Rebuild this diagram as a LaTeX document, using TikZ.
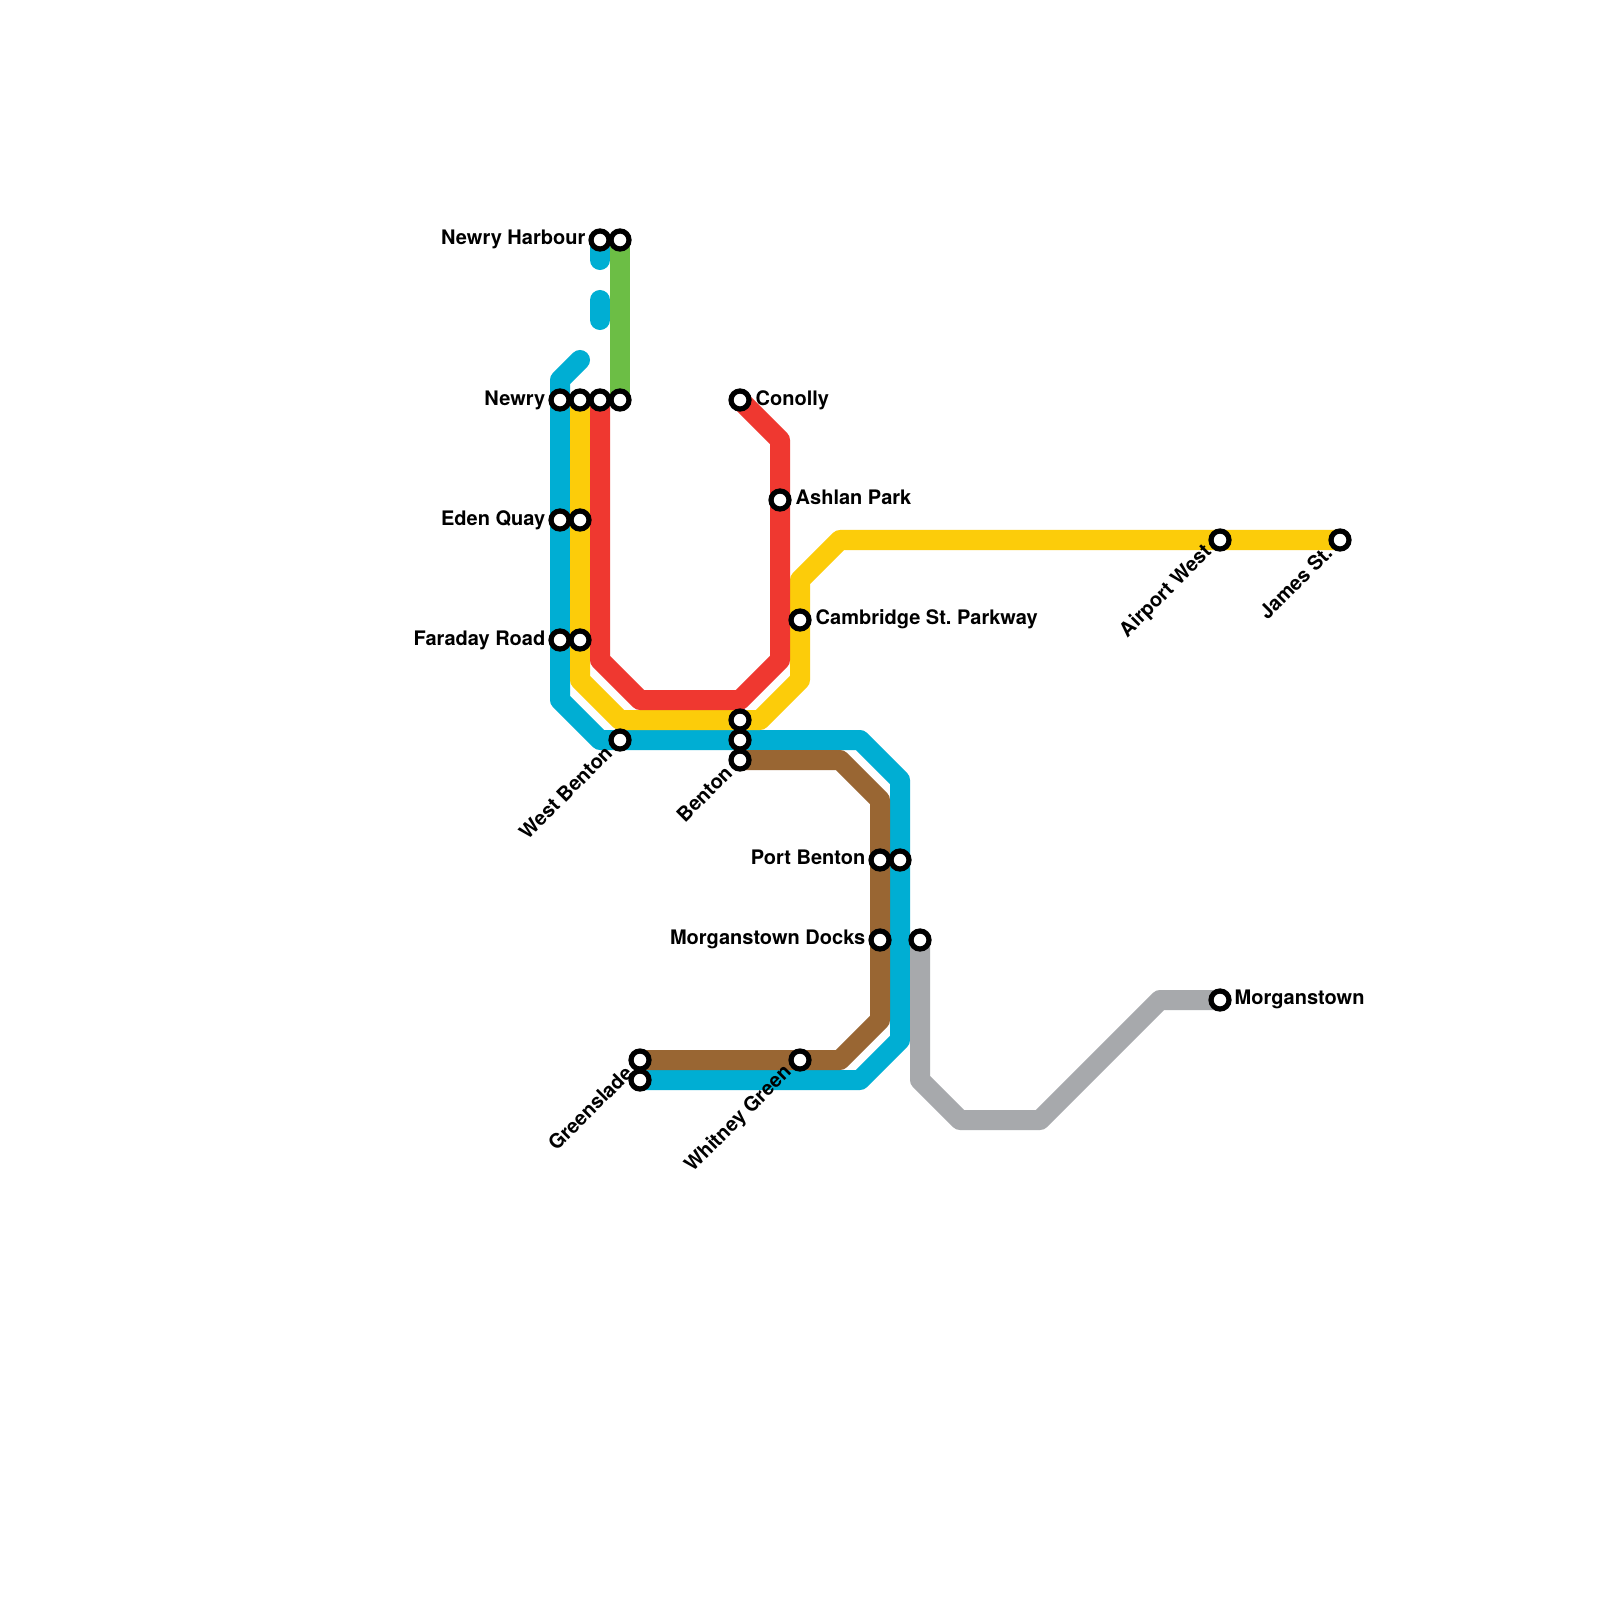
\documentclass[tikz,border=0pt]{standalone}
\usepackage{fontspec}
\setmainfont{TeX Gyre Heros}
\usepackage{tikz}
\usetikzlibrary{backgrounds}
\definecolor{mapblue}{HTML}{00AED3}
\definecolor{mapyellow}{HTML}{FCCC0A}
\definecolor{mapred}{HTML}{EF3830}
\definecolor{mapgreen}{HTML}{6CBE45}
\definecolor{mapbrown}{HTML}{996633}
\definecolor{mapgrey}{HTML}{A7A9AC}

\begin{document}
\frenchspacing
\begin{tikzpicture}[
  font=\bfseries\fontsize{5.69}{7}\selectfont,text=black,
  stn/.style={circle,draw=black,fill=white,line width=.052cm,minimum size=.18cm,inner sep=0pt},
  route/.style={line width=.2cm,line cap=round,line join=round},
  lbl/.style={inner sep=0pt}]
\begin{scope}[x=.01cm,y=-.01cm]
  \path[use as bounding box] (0,0) rectangle (1600,1600);
  % stations first, the routes go behind them
  \node[stn] (harbourblue) at (600,240) {};
  \node[stn] (harbourgreen) at (620,240) {};
  \node[stn] (newryblue) at (560,400) {};
  \node[stn] (newryyellow) at (580,400) {};
  \node[stn] (newryred) at (600,400) {};
  \node[stn] (newrygreen) at (620,400) {};
  \node[stn] (edenblue) at (560,520) {};
  \node[stn] (edenyellow) at (580,520) {};
  \node[stn] (faradayblue) at (560,640) {};
  \node[stn] (faradayyellow) at (580,640) {};
  \node[stn] (westbenton) at (620,740) {};
  \node[stn] (bentonyellow) at (740,720) {};
  \node[stn] (bentonblue) at (740,740) {};
  \node[stn] (bentonbrown) at (740,760) {};
  \node[stn] (conolly) at (740,400) {};
  \node[stn] (ashlan) at (780,500) {};
  \node[stn] (cambridge) at (800,620) {};
  \node[stn] (portbrown) at (880,860) {};
  \node[stn] (portblue) at (900,860) {};
  \node[stn] (docksbrown) at (880,940) {};
  \node[stn] (docksgrey) at (920,940) {};
  \node[stn] (morganstown) at (1220,1000) {};
  \node[stn] (airport) at (1220,540) {};
  \node[stn] (james) at (1340,540) {};
  \node[stn] (gladebrown) at (640,1060) {};
  \node[stn] (gladeblue) at (640,1080) {};
  \node[stn] (whitney) at (800,1060) {};
  % free ends of the unfinished blue pieces
  \coordinate (stubtop) at (600,260);
  \coordinate (stubmidA) at (600,300);
  \coordinate (stubmidB) at (600,320);
  \coordinate (stubend) at (580,360);
  \begin{scope}[on background layer]
    \fill[white] (0,0) rectangle (1600,1600);
    % routes
    \draw[route,mapblue] (stubend)--(560,380)--(newryblue.center)--(edenblue.center)--(faradayblue.center)--(560,700)--(600,740)--(westbenton.center)--(bentonblue.center)--(860,740)--(900,780)--(portblue.center)--(900,1040)--(860,1080)--(gladeblue.center);
    \draw[route,mapblue] (harbourblue.center)--(stubtop);
    \draw[route,mapblue] (stubmidA)--(stubmidB);
    \draw[route,mapyellow] (newryyellow.center)--(edenyellow.center)--(faradayyellow.center)--(580,680)--(620,720)--(bentonyellow.center)--(760,720)--(800,680)--(cambridge.center)--(800,580)--(840,540)--(airport.center)--(james.center);
    \draw[route,mapred] (newryred.center)--(600,660)--(640,700)--(740,700)--(780,660)--(ashlan.center)--(780,440)--(conolly.center);
    \draw[route,mapgreen] (harbourgreen.center)--(newrygreen.center);
    \draw[route,mapbrown] (bentonbrown.center)--(840,760)--(880,800)--(portbrown.center)--(docksbrown.center)--(880,1020)--(840,1060)--(whitney.center)--(gladebrown.center);
    \draw[route,mapgrey] (docksgrey.center)--(920,1080)--(960,1120)--(1040,1120)--(1160,1000)--(morganstown.center);
  \end{scope}
  % labels
  \node[lbl,anchor=base east] (lharbour) at (586,245) {Newry Harbour};
  \node[lbl,anchor=base east] (lnewry) at (546,405) {Newry};
  \node[lbl,anchor=base east] (leden) at (546,525) {Eden Quay};
  \node[lbl,anchor=base east] (lfaraday) at (546,645) {Faraday Road};
  \node[lbl,anchor=base west] (lconolly) at (755,405) {Conolly};
  \node[lbl,anchor=base west] (lashlan) at (795,504) {Ashlan Park};
  \node[lbl,anchor=base west] (lcambridge) at (815,624) {Cambridge St. Parkway};
  \node[lbl,anchor=base east] (lport) at (866,864) {Port Benton};
  \node[lbl,anchor=base east] (ldocks) at (866,944) {Morganstown Docks};
  \node[lbl,anchor=base west] (lmorganstown) at (1234,1004) {Morganstown};
  \node[lbl,anchor=east,rotate=45] (lwest) at (609,749) {West Benton};
  \node[lbl,anchor=east,rotate=45] (lbenton) at (729,769) {Benton};
  \node[lbl,anchor=east,rotate=45] (lairport) at (1209,549) {Airport West};
  \node[lbl,anchor=east,rotate=45] (ljames) at (1329,549) {James St.};
  \node[lbl,anchor=east,rotate=45] (lglade) at (629,1069) {Greenslade};
  \node[lbl,anchor=east,rotate=45] (lwhitney) at (789,1069) {Whitney Green};
\end{scope}
\end{tikzpicture}
\end{document}
